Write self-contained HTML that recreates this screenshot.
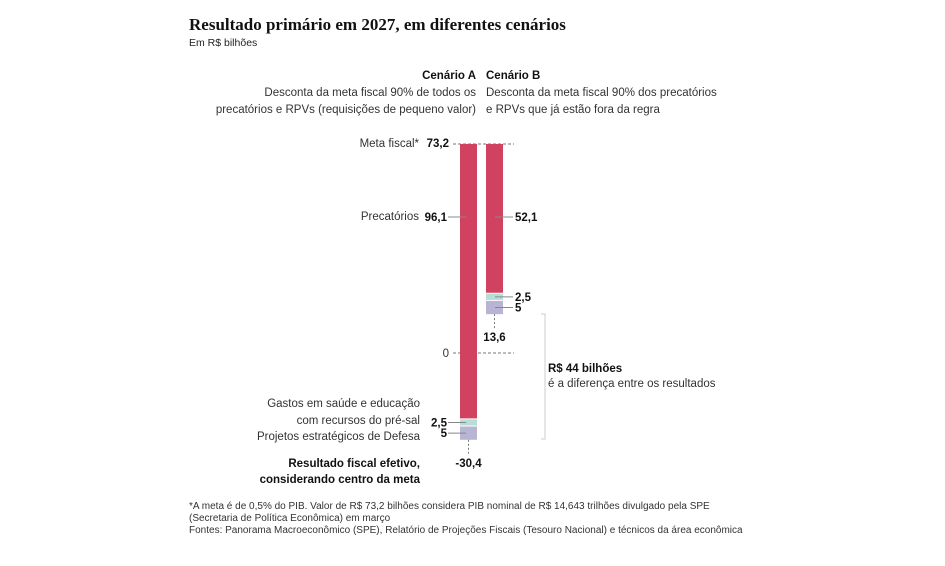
<!DOCTYPE html>
<html><head><meta charset="utf-8"><style>
html,body{margin:0;padding:0;background:#fff;}
svg{display:block;font-family:"Liberation Sans",sans-serif;}
.t{font-size:11.5px;fill:#333;}
.b{font-size:11.5px;font-weight:bold;fill:#111;}
</style></head><body>
<svg id="chart" width="945" height="566">
<text x="189" y="30" font-family="Liberation Serif" font-weight="bold" font-size="17" fill="#111">Resultado primário em 2027, em diferentes cenários</text>
<text x="189" y="46" font-size="10.5" fill="#222">Em R$ bilhões</text>
<text class="b" x="476" y="79" text-anchor="end">Cenário A</text>
<text class="t" x="476" y="96" text-anchor="end">Desconta da meta fiscal 90% de todos os</text>
<text class="t" x="476" y="113" text-anchor="end">precatórios e RPVs (requisições de pequeno valor)</text>
<text class="b" x="486" y="79">Cenário B</text>
<text class="t" x="486" y="96">Desconta da meta fiscal 90% dos precatórios</text>
<text class="t" x="486" y="113">e RPVs que já estão fora da regra</text>
<g id="marks"></g>
<text class="t" x="419" y="147" text-anchor="end">Meta fiscal*</text>
<text class="b" x="449" y="147" text-anchor="end">73,2</text>
<text class="t" x="419" y="220" text-anchor="end">Precatórios</text>
<text class="t" x="449" y="357" text-anchor="end">0</text>
<text class="t" x="420" y="407" text-anchor="end">Gastos em saúde e educação</text>
<text class="t" x="420" y="424" text-anchor="end">com recursos do pré-sal</text>
<text class="t" x="420" y="440" text-anchor="end">Projetos estratégicos de Defesa</text>
<text class="b" x="420" y="467" text-anchor="end">Resultado fiscal efetivo,</text>
<text class="b" x="420" y="483" text-anchor="end">considerando centro da meta</text>
<path d="M541 314 H545 V439 H541" fill="none" stroke="#ccc"/>
<text class="b" x="548" y="372">R$ 44 bilhões</text>
<text class="t" x="548" y="387">é a diferença entre os resultados</text>
<text x="189" y="509" font-size="10" fill="#333">*A meta é de 0,5% do PIB. Valor de R$ 73,2 bilhões considera PIB nominal de R$ 14,643 trilhões divulgado pela SPE</text>
<text x="189" y="521" font-size="10" fill="#333">(Secretaria de Política Econômica) em março</text>
<text x="189" y="533" font-size="10" fill="#333">Fontes: Panorama Macroeconômico (SPE), Relatório de Projeções Fiscais (Tesouro Nacional) e técnicos da área econômica</text>
</svg>
<script>
const scenarios = ["A", "B"];
const meta = 73.2;
const precatorios = [96.1, 52.1];
const saude = [2.5, 2.5];
const defesa = [5, 5];
const resultLabels = ["-30,4", "13,6"];
const valueLabels = [["96,1","2,5","5"],["52,1","2,5","5"]];

const y = v => 353 - (v) * (209 / 73.2);
const xBar = i => 460 + i * 26;
const bw = 17;
const g = document.getElementById('marks');
const NS = 'http://www.w3.org/2000/svg';
function mk(tag, attrs){const e=document.createElementNS(NS,tag);for(const k in attrs)e.setAttribute(k,attrs[k]);g.appendChild(e);return e;}

const l1 = mk('line',{x1:453,x2:514,y1:y(meta),y2:y(meta),stroke:'#777','stroke-dasharray':'3,2'});


const l0 = mk('line',{x1:453,x2:514,y1:y(0),y2:y(0),stroke:'#777','stroke-dasharray':'3,2'});



scenarios.forEach((s,i)=>{
  const x = xBar(i);
  let top = meta;
  const segs = [[precatorios[i],'#d0425f'],[saude[i],'#b6ddd6'],[defesa[i],'#b8b5d4']];
  segs.forEach((sg,j)=>{
    const bot = top - sg[0];
    const y0 = y(top) + (j>0?1:0), y1 = y(bot);
    const r = mk('rect',{x:x,y:y0,width:bw,height:Math.max(0,y1-y0),fill:sg[1]});
    
    
    const ym = j===0 ? y(meta - 25.7) : (y0+y1)/2;
    const yl = j===0 ? 217 : ym;
    let lx1, lx2, tx, anchor;
    if(i===0){lx1=x-12; lx2=x+6; tx=x-11; anchor='end';}
    else{lx1=x+9; lx2=x+27; tx=x+29; anchor='start';}
    const ln = mk('line',{x1:lx1,x2:lx2,y1:yl,y2:yl,stroke:'#888'});
    
    
    const t = mk('text',{x:i===0?x-13:tx,y:yl+4,'text-anchor':anchor,'font-size':'11.5','font-weight':'bold',fill:'#111'});
    t.textContent = valueLabels[i][j];
    
    
    top = bot;
  });
  const ye = y(top);
  const d = mk('line',{x1:x+bw/2,x2:x+bw/2,y1:ye,y2:ye+15,stroke:'#777','stroke-dasharray':'2,2'});
  
  
  const rt = mk('text',{x:x+bw/2,y:ye+27,'text-anchor':'middle','font-size':'11.5','font-weight':'bold',fill:'#111'});
  rt.textContent = resultLabels[i];
  
  
});
</script>
</body></html>
